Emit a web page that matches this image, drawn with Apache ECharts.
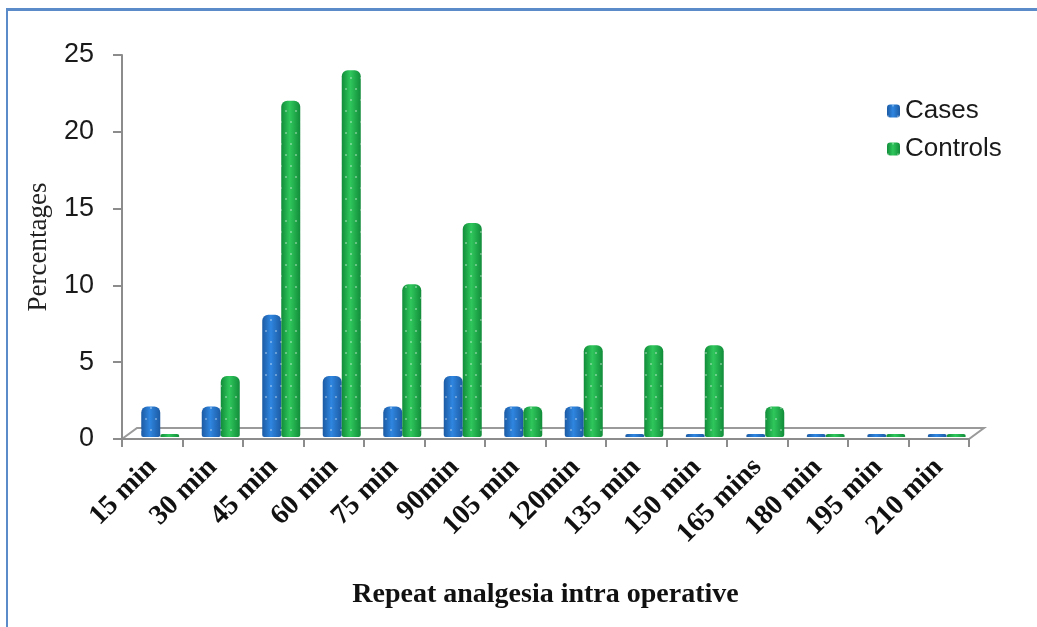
<!DOCTYPE html>
<html>
<head>
<meta charset="utf-8">
<script src="https://cdn.jsdelivr.net/npm/echarts@6/dist/echarts.min.js"></script>
<style>
  html, body { margin: 0; padding: 0; background: #fff; }
  #frame { position: absolute; left: 6px; top: 8px; width: 1100px; height: 700px;
           border-left: 2px solid #5b8bc9; border-top: 3px solid #5b8bc9; }
  #main { position: absolute; left: 0; top: 0; width: 1037px; height: 627px; }
</style>
</head>
<body>
<div id="frame"></div>
<div id="main"></div>
<script>
// data
const categories = ['15 min', '30 min', '45 min', '60 min', '75 min', '90min', '105 min',
  '120min', '135 min', '150 min', '165 mins', '180 min', '195 min', '210 min'];
const cases = [2, 2, 8, 4, 2, 4, 2, 2, 0, 0, 0, 0, 0, 0];
const controls = [0, 4, 22, 24, 10, 14, 2, 6, 6, 6, 2, 0, 0, 0];
const yTicks = { min: 0, max: 25, step: 5 };

// layout of the fake 3d floor
const LEFT = 122, RIGHT_X = 969, BASE_Y = 439, TOP_Y = 55;
const DX = 15, DY = 11;

function cyl(edge, mid) {
  return new echarts.graphic.LinearGradient(0, 0, 1, 0, [
    { offset: 0, color: edge },
    { offset: 0.45, color: mid },
    { offset: 1, color: edge }
  ]);
}
// small white dots like the original fill pattern
const dots = {
  symbol: 'circle',
  symbolSize: 0.8,
  color: 'rgba(255,255,255,0.7)',
  dashArrayX: [[2, 8], [0, 5, 2, 3]],
  dashArrayY: [2, 9],
  rotation: 0
};

const chart = echarts.init(document.getElementById('main'));
chart.setOption({
  animation: false,
  aria: { enabled: true, decal: { show: true } },
  grid: [
    { left: LEFT, right: 1037 - RIGHT_X, top: TOP_Y, bottom: 627 - BASE_Y },
    { left: LEFT + 8, right: 1037 - RIGHT_X - 8, top: TOP_Y, bottom: 627 - BASE_Y + 2 }
  ],
  legend: {
    orient: 'vertical',
    left: 882, top: 93,
    itemWidth: 13, itemHeight: 13, itemGap: 12,
    textStyle: { fontFamily: 'Liberation Sans', fontSize: 26, color: '#1a1a1a' },
    data: ['Cases', 'Controls']
  },
  xAxis: [
    {
      type: 'category', gridIndex: 0, data: categories,
      axisLine: { show: true, lineStyle: { color: '#8c8c8c', width: 2 } },
      axisTick: { show: true, length: 8, lineStyle: { color: '#8c8c8c', width: 2 } },
      axisLabel: {
        rotate: 45, margin: 24, interval: 0,
        fontFamily: 'Liberation Serif', fontWeight: 'bold', fontSize: 28, color: '#111'
      },
      name: 'Repeat analgesia intra operative',
      nameLocation: 'middle', nameGap: 142,
      nameTextStyle: { fontFamily: 'Liberation Serif', fontWeight: 'bold', fontSize: 28, color: '#111' }
    },
    { type: 'category', gridIndex: 1, data: categories, show: false }
  ],
  yAxis: [
    {
      type: 'value', gridIndex: 0,
      min: yTicks.min, max: yTicks.max, interval: yTicks.step,
      splitLine: { show: false },
      axisLine: { show: true, lineStyle: { color: '#8c8c8c', width: 2 } },
      axisTick: { show: true, length: 9, lineStyle: { color: '#8c8c8c', width: 2 } },
      axisLabel: { fontFamily: 'Liberation Sans', fontSize: 27, color: '#1a1a1a', margin: 28 },
      name: 'Percentages', nameLocation: 'middle', nameRotate: 90, nameGap: 70,
      nameTextStyle: { fontFamily: 'Liberation Serif', fontSize: 27, color: '#222' }
    },
    {
      type: 'value', gridIndex: 1, show: false,
      min: yTicks.min, max: yTicks.max, interval: yTicks.step, splitLine: { show: false }
    }
  ],
  graphic: [{
    type: 'polygon', z: 0, silent: true,
    shape: { points: [[LEFT, BASE_Y], [RIGHT_X, BASE_Y], [RIGHT_X + DX, BASE_Y - DY], [LEFT + DX, BASE_Y - DY]] },
    style: { fill: '#fff', stroke: '#9a9a9a', lineWidth: 2 }
  }],
  series: [
    {
      name: 'Cases', type: 'bar', xAxisIndex: 1, yAxisIndex: 1,
      data: cases, barWidth: 19, barGap: '0%', barMinHeight: 3, z: 3,
      itemStyle: { color: cyl('#1c5aa3', '#2f86e0'), borderRadius: [6, 6, 2, 2], decal: dots }
    },
    {
      name: 'Controls', type: 'bar', xAxisIndex: 1, yAxisIndex: 1,
      data: controls, barWidth: 19, barGap: '0%', barMinHeight: 3, z: 3,
      itemStyle: { color: cyl('#128c3a', '#2fc75c'), borderRadius: [6, 6, 2, 2], decal: dots }
    }
  ]
});
</script>
</body>
</html>
